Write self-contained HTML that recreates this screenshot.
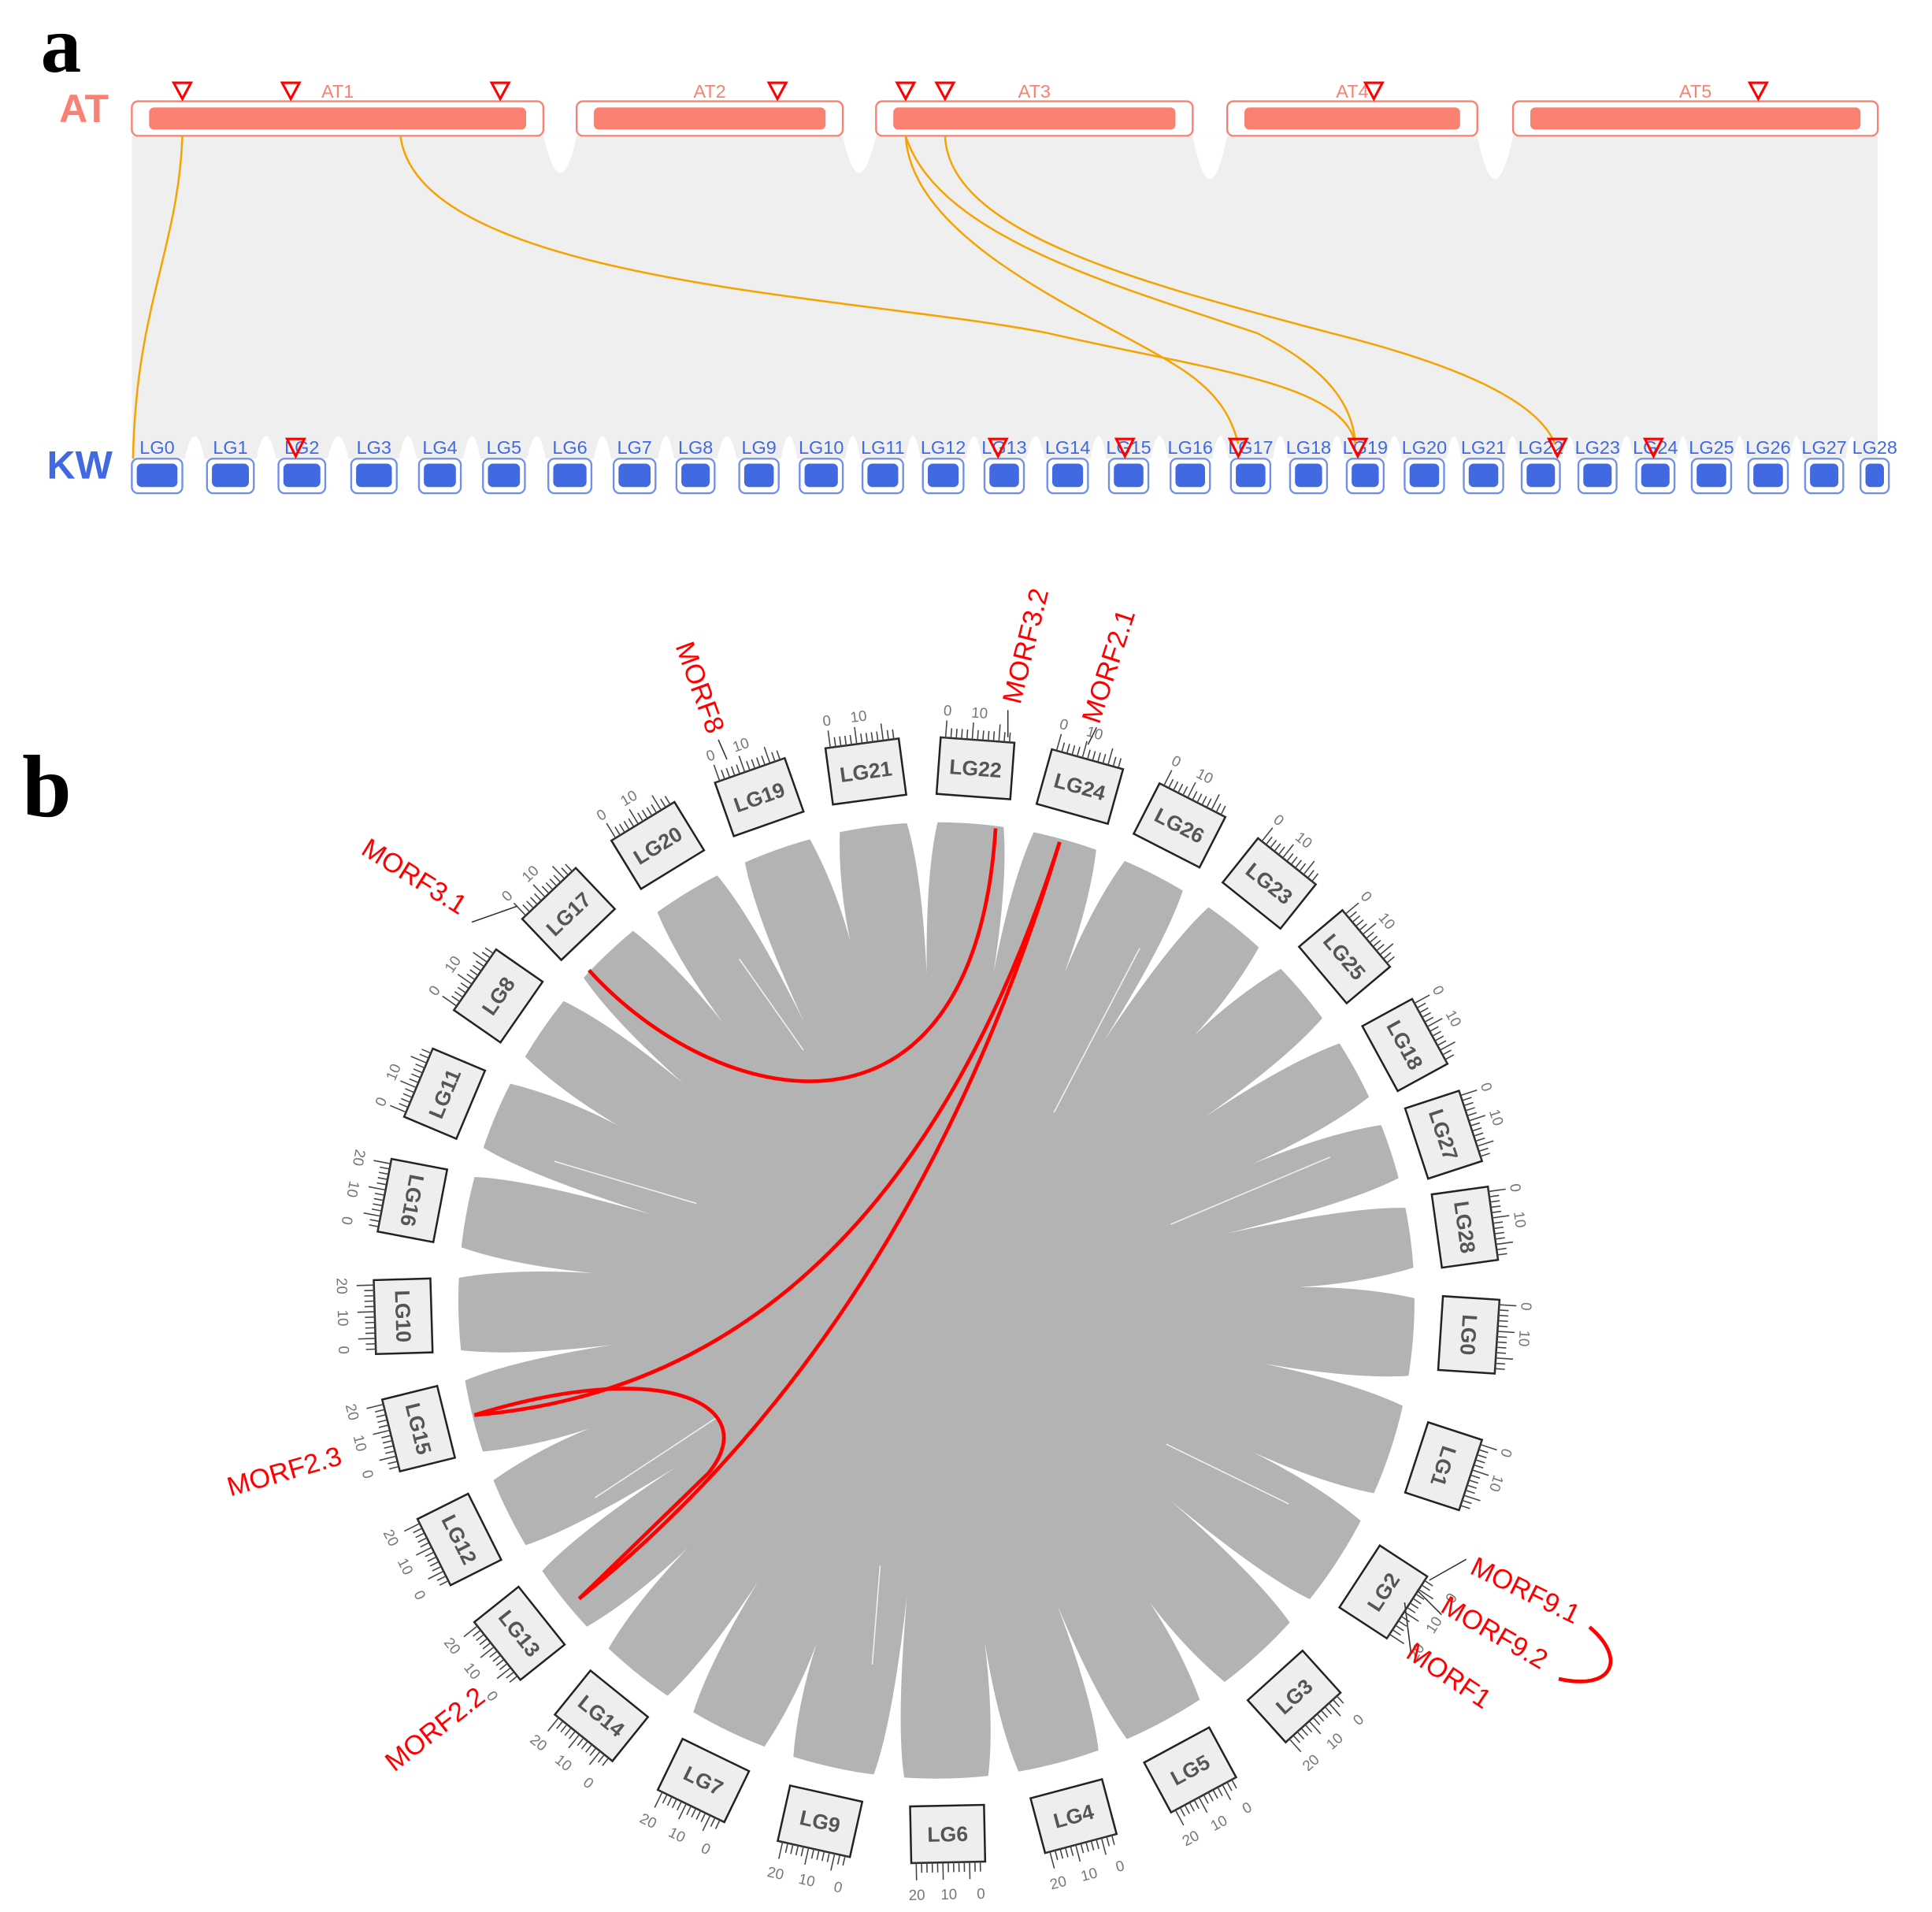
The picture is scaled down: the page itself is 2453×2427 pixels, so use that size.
<!DOCTYPE html>
<html><head><meta charset="utf-8"><style>
html,body{margin:0;padding:0;background:#fff}
svg{display:block}
</style></head><body>
<svg id="s" width="2453" height="2427" viewBox="0 0 1568 1551" xmlns="http://www.w3.org/2000/svg" font-family="Liberation Sans, sans-serif">
<rect width="1568" height="1551" fill="#fff"/>
<text x="33" y="58" font-family="Liberation Serif, serif" font-weight="bold" font-size="66">a</text>
<text x="18" y="662" font-family="Liberation Serif, serif" font-weight="bold" font-size="72">b</text>
<path d="M107,110 L1524,110 L1524,372 L107,372 Z" fill="#efefef"/>
<g fill="#fff">
<path d="M441,110 Q455,170 468,110 Z"/><path d="M684,110 Q697,170 711,110 Z"/><path d="M968,110 Q982,180 996,110 Z"/><path d="M1199,110 Q1213,180 1228,110 Z"/>
</g>
<g id="kwgaps" fill="#fff"></g>
<text x="48" y="99" fill="#fa8072" font-size="32" font-weight="bold">AT</text>
<text x="38" y="388" fill="#4169e1" font-size="32" font-weight="bold">KW</text>
<g id="at"></g>
<g id="kw"></g>
<g fill="none" stroke="#f5a300" stroke-width="1.6">
<path d="M148,110 C145,200 110,250 108,372"/>
<path d="M325,110 C340,230 700,240 850,270 C980,300 1090,310 1100,360"/>
<path d="M735,110 C740,200 900,260 960,300 C990,320 1000,340 1005,360"/>
<path d="M735,110 C760,190 900,230 1020,270 C1080,300 1098,330 1100,360"/>
<path d="M767,110 C770,190 930,230 1080,270 C1200,300 1250,330 1262,360"/>
</g>
<g id="tri" fill="none" stroke="#ff0000" stroke-width="2"></g>
<g id="circ"></g>
<g fill="none" stroke="#ff0000" stroke-width="3">
<path d="M478,787 C580,900 790,950 808,672"/>
<path d="M860,683 Q720,1120 385,1148"/>
<path d="M860,683 Q740,1080 470,1297"/>
<path d="M385,1148 C540,1100 620,1140 575,1195 L470,1297"/>
<path d="M1290,1320 C1320,1345 1310,1372 1265,1362"/>
</g>
<g fill="#ff0000" font-size="22">
<text transform="translate(828,572) rotate(-76)">MORF3.2</text>
<text transform="translate(892,588) rotate(-72)">MORF2.1</text>
<text transform="translate(548,524) rotate(70)">MORF8</text>
<text transform="translate(292,692) rotate(32)">MORF3.1</text>
<text transform="translate(187,1214) rotate(-16)">MORF2.3</text>
<text transform="translate(320,1438) rotate(-38)">MORF2.2</text>
<text transform="translate(1192,1276) rotate(26)">MORF9.1</text>
<text transform="translate(1168,1307) rotate(30)">MORF9.2</text>
<text transform="translate(1140,1344) rotate(34)">MORF1</text>
</g>
<g stroke="#333" stroke-width="1" fill="none">
<path d="M383,748 L420,735"/><path d="M1160,1282 L1190,1265"/><path d="M1150,1290 L1170,1310"/><path d="M1140,1300 L1145,1340"/>
<path d="M818,598 L818,576"/><path d="M883,604 L890,590"/><path d="M590,616 L583,600"/>
</g>
</svg>
<script>
var NS="http://www.w3.org/2000/svg";
function el(p,t,a,txt){var e=document.createElementNS(NS,t);for(var k in a)e.setAttribute(k,a[k]);if(txt!=null)e.textContent=txt;p.appendChild(e);return e;}
var at=[["AT1",107,441],["AT2",468,684],["AT3",711,968],["AT4",996,1199],["AT5",1228,1524]];
var g=document.getElementById('at');
at.forEach(function(c){el(g,'rect',{x:c[1],y:82,width:c[2]-c[1],height:28,rx:5,fill:'#fff',stroke:'#fa8072','stroke-width':1.5});
el(g,'rect',{x:c[1]+14,y:87,width:c[2]-c[1]-28,height:18,rx:4,fill:'#fa8072'});
el(g,'text',{x:(c[1]+c[2])/2,y:79,'text-anchor':'middle',fill:'#fa8072','font-size':15},c[0]);});
var kw=[[107,148],[168,206],[226,264],[285,322],[340,374],[392,426],[445,480],[498,532],[549,580],[600,632],[649,684],[700,733],[749,782],[799,831],[850,883],[900,932],[950,982],[999,1031],[1047,1077],[1093,1123],[1140,1172],[1188,1220],[1235,1266],[1281,1312],[1328,1359],[1373,1405],[1419,1451],[1465,1496],[1510,1533]];
var k=document.getElementById('kw'),kg=document.getElementById('kwgaps');
kw.forEach(function(c,i){
 if(i<kw.length-1){var a=c[1],b=kw[i+1][0];el(kg,'path',{d:'M'+(a+2)+',372 Q'+((a+b)/2)+',335 '+(b-2)+',372 Z'});}
 el(k,'rect',{x:c[0],y:372,width:c[1]-c[0],height:28,rx:5,fill:'#fff',stroke:'#6f8fe8','stroke-width':1.5});
 el(k,'rect',{x:c[0]+4,y:376,width:c[1]-c[0]-8,height:19,rx:4,fill:'#4169e1'});
 el(k,'text',{x:(c[0]+c[1])/2,y:368,'text-anchor':'middle',fill:'#4169e1','font-size':15},'LG'+i);});
var T=document.getElementById('tri');
[148,236,406,631,735,767,1115,1427].forEach(function(x){el(T,'path',{d:'M'+(x-7)+',67 L'+(x+7)+',67 L'+x+',80 Z'});});
[240,810,913,1005,1102,1264,1342].forEach(function(x){el(T,'path',{d:'M'+(x-7)+',356 L'+(x+7)+',356 L'+x+',370 Z'});});
var cx=760,cy=1055;
var chr=[["LG22",-85.8],["LG24",-74.4],["LG26",-62.9],["LG23",-51.4],["LG25",-40.1],["LG18",-28.6],["LG27",-18.1],["LG28",-7.9],["LG0",3.7],["LG1",18.1],["LG2",33.1],["LG3",47.9],["LG5",61.6],["LG4",75.1],["LG6",88.8],["LG9",102.6],["LG7",115.9],["LG14",128.9],["LG13",141.4],["LG12",153.4],["LG15",166.1],["LG10",178.3],["LG16",190.8],["LG11",202.8],["LG8",214.8],["LG17",226.4],["LG20",238.5],["LG19",250.6],["LG21",262.4]];
function P(a,r){var t=a*Math.PI/180;return [cx+r*Math.cos(t),cy+r*Math.sin(t)];}
function pt(p){return p[0].toFixed(1)+' '+p[1].toFixed(1);}
var C=document.getElementById('circ');
var R=388;
el(C,'circle',{cx:cx,cy:cy,r:R,fill:'#b3b3b3'});
var n=chr.length;
for(var i=0;i<n;i++){
 var a=chr[i][1],b=(i+1<n)?chr[i+1][1]:chr[0][1]+360;
 var m=(a+b)/2,hw=1.9;
 var depth=[270,285,250,300,265,280,240,295][i%8];
 var d='M'+pt(P(m-hw,R+2))+' Q'+pt(P(m-0.25,R-40))+' '+pt(P(m,depth))+' Q'+pt(P(m+0.25,R-40))+' '+pt(P(m+hw,R+2))+' Z';
 el(C,'path',{d:d,fill:'#fff'});
}
// a few thin white streaks inside
[[-60,330,180],[-20,340,200],[30,330,220],[150,320,200],[200,330,210],[240,320,230],[100,300,220]].forEach(function(s){
 el(C,'path',{d:'M'+pt(P(s[0],s[1]))+' L'+pt(P(s[0]+2,s[2])),stroke:'#fff','stroke-width':1,fill:'none',opacity:0.8});
});
chr.forEach(function(c){
 var a=c[1],pc=P(a,433);
 var flip=(a>25&&a<200);
 var rot=flip?a-90:a+90;var sg=flip?1:-1;
 var gg=el(C,'g',{transform:'translate('+pc[0].toFixed(1)+','+pc[1].toFixed(1)+') rotate('+rot.toFixed(1)+')'});
 el(gg,'rect',{x:-30,y:-23,width:60,height:46,fill:'#eeeeee',stroke:'#222','stroke-width':1.6});
 el(gg,'text',{x:0,y:6,'text-anchor':'middle','font-size':17,'font-weight':'bold',fill:'#555'},c[0]);
 var ye=sg*23;
 el(gg,'line',{x1:-30,y1:ye,x2:30,y2:ye,stroke:'#333','stroke-width':1});
 for(var t=0;t<=12;t++){var x=-26+t*52/12;var L=(t%5==0)?14:8;el(gg,'line',{x1:x,y1:ye,x2:x,y2:ye+sg*L,stroke:'#444','stroke-width':1});}
 var yl=flip?ye+30:ye-18;
 var l0=flip?26:-26;
 el(gg,'text',{x:l0,y:yl,'text-anchor':'middle','font-size':12,fill:'#777'},'0');
 el(gg,'text',{x:0,y:yl,'text-anchor':'middle','font-size':12,fill:'#777'},'10');
 if(flip){el(gg,'text',{x:-26,y:yl,'text-anchor':'middle','font-size':12,fill:'#777'},'20');}
});
</script>
</body></html>
